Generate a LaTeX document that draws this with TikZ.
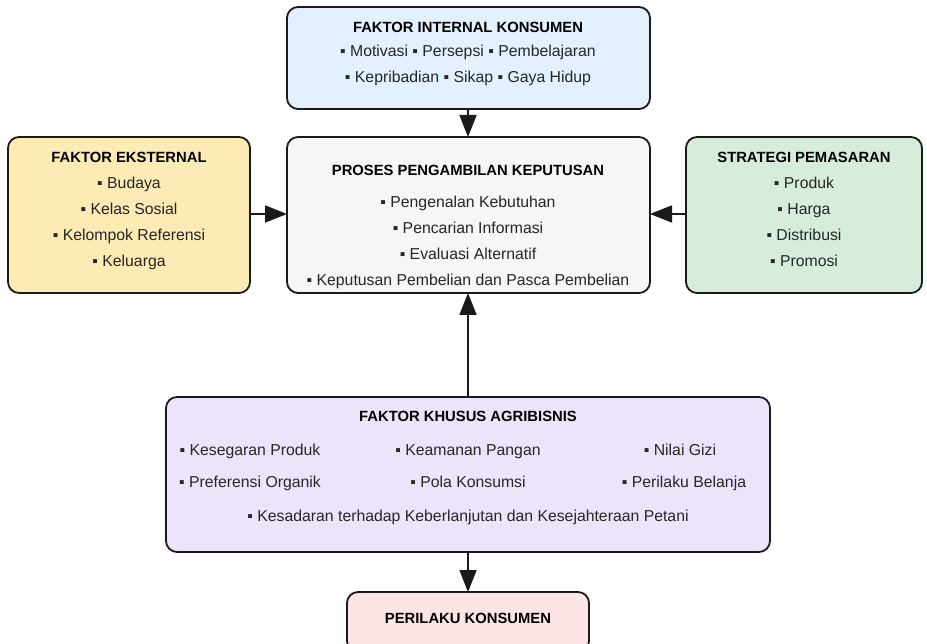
\documentclass[tikz,border=0pt]{standalone}
\usepackage{fontspec}
\setmainfont{Liberation Sans}
\usetikzlibrary{arrows.meta}
\definecolor{cInt}{HTML}{E3F0FD}
\definecolor{cExt}{HTML}{FDEBB6}
\definecolor{cProc}{HTML}{F6F6F6}
\definecolor{cStr}{HTML}{D7EDDB}
\definecolor{cAgr}{HTML}{EDE4FA}
\definecolor{cOut}{HTML}{FDE5E5}
\definecolor{cLine}{HTML}{1A1A1A}
\tikzset{
  box/.style={draw=cLine, line width=1.8pt, rounded corners=11pt},
  ttl/.style={font=\bfseries\fontsize{14.8}{17}\selectfont, text=black,
    text height=10.6pt, text depth=0pt},
  itm/.style={font=\fontsize{15.8}{19}\selectfont, text=black!85,
    text height=11.4pt, text depth=0pt},
  link/.style={draw=cLine, line width=1.8pt,
    -{Triangle[length=22pt,width=17pt]}}
}
\begin{document}
\begin{tikzpicture}[x=1pt,y=-1pt]
\useasboundingbox (0,0) rectangle (927,644);

% factor boxes
\path[box, fill=cInt]  (287,7)   rectangle (650,109);
\path[box, fill=cExt]  (8,137)   rectangle (250,293);
\path[box, fill=cProc] (287,137) rectangle (650,293);
\path[box, fill=cStr]  (686,137) rectangle (922,293);
\path[box, fill=cAgr]  (166,397) rectangle (770,552);
\path[box, fill=cOut]  (347,592) rectangle (589,652);

% anchors for the connectors
\coordinate (intB) at (468,109);
\coordinate (procT) at (468,137);
\coordinate (extR) at (250,214);
\coordinate (procL) at (287,214);
\coordinate (strL) at (686,214);
\coordinate (procR) at (650,214);
\coordinate (agrT) at (468,397);
\coordinate (procB) at (468,293);
\coordinate (agrB) at (468,552);
\coordinate (outT) at (468,592);

% internal factors
\node[ttl] (intT) at (468,27) {FAKTOR INTERNAL KONSUMEN};
\node[itm] (int1) at (468,51) {▪ Motivasi ▪ Persepsi ▪ Pembelajaran};
\node[itm] (int2) at (468,77) {▪ Kepribadian ▪ Sikap ▪ Gaya Hidup};

% external factors
\node[ttl] (extT) at (129,157) {FAKTOR EKSTERNAL};
\node[itm] (ext1) at (129,183) {▪ Budaya};
\node[itm] (ext2) at (129,209) {▪ Kelas Sosial};
\node[itm] (ext3) at (129,235) {▪ Kelompok Referensi};
\node[itm] (ext4) at (129,261) {▪ Keluarga};

% decision process
\node[ttl] (procTt) at (468,170) {PROSES PENGAMBILAN KEPUTUSAN};
\node[itm] (proc1) at (468,202) {▪ Pengenalan Kebutuhan};
\node[itm] (proc2) at (468,228) {▪ Pencarian Informasi};
\node[itm] (proc3) at (468,254) {▪ Evaluasi Alternatif};
\node[itm] (proc4) at (468,280) {▪ Keputusan Pembelian dan Pasca Pembelian};

% marketing strategy
\node[ttl] (strT) at (804,157) {STRATEGI PEMASARAN};
\node[itm] (str1) at (804,183) {▪ Produk};
\node[itm] (str2) at (804,209) {▪ Harga};
\node[itm] (str3) at (804,235) {▪ Distribusi};
\node[itm] (str4) at (804,261) {▪ Promosi};

% agribusiness factors
\node[ttl] (agrTt) at (468,416) {FAKTOR KHUSUS AGRIBISNIS};
\node[itm] (agr1) at (250,450) {▪ Kesegaran Produk};
\node[itm] (agr2) at (468,450) {▪ Keamanan Pangan};
\node[itm] (agr3) at (680,450) {▪ Nilai Gizi};
\node[itm] (agr4) at (250,482) {▪ Preferensi Organik};
\node[itm] (agr5) at (468,482) {▪ Pola Konsumsi};
\node[itm] (agr6) at (684,482) {▪ Perilaku Belanja};
\node[itm] (agr7) at (468,516) {▪ Kesadaran terhadap Keberlanjutan dan Kesejahteraan Petani};

% outcome
\node[ttl] (outTt) at (468,618) {PERILAKU KONSUMEN};

% connectors
\draw[link] (intB) -- (procT);
\draw[link] (extR) -- (procL);
\draw[link] (strL) -- (procR);
\draw[link] (agrT) -- (procB);
\draw[link] (agrB) -- (outT);
\end{tikzpicture}
\end{document}
